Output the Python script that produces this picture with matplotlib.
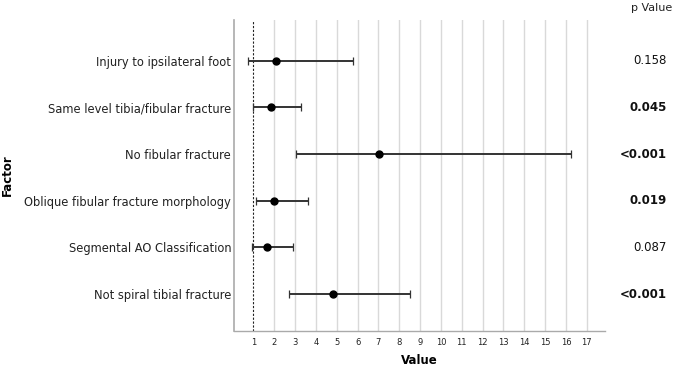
import matplotlib
matplotlib.use("Agg")
from matplotlib import pyplot as plt
from matplotlib.transforms import blended_transform_factory
import numpy as np

factors = [
    "Injury to ipsilateral foot",
    "Same level tibia/fibular fracture",
    "No fibular fracture",
    "Oblique fibular fracture morphology",
    "Segmental AO Classification",
    "Not spiral tibial fracture",
]
estimate = [2.09, 1.83, 7.01, 2.01, 1.66, 4.84]
lower = [0.76, 1.00, 3.03, 1.13, 0.94, 2.73]
upper = [5.76, 3.29, 16.23, 3.61, 2.92, 8.51]
p_values = ["0.158", "0.045", "<0.001", "0.019", "0.087", "<0.001"]
p_bold = [False, True, True, True, False, True]
x_ticks = list(range(1, 18))

plt.rcParams["font.family"] = "DejaVu Sans"

fig = plt.figure(figsize=(6.76, 3.68), dpi=100)
ax = fig.add_axes([234 / 676, 37 / 368, 371 / 676, 311 / 368])

ypos = np.arange(len(factors), 0, -1)
est = np.array(estimate)
lo = est - np.array(lower)
hi = np.array(upper) - est

ax.set_xlim(0.07, 17.87)
ax.set_ylim(0.21, 6.87)

for t in x_ticks[1:]:
    ax.axvline(t, color="#d9d9d9", lw=1, zorder=0)
ax.axvline(1, color="#222222", lw=0.8, ls=(0, (2, 1.5)), zorder=1)

ax.errorbar(est, ypos, xerr=[lo, hi], fmt="o", color="black", ecolor="#333333",
            elinewidth=1.4, capsize=3, capthick=0.9, markersize=5, zorder=3)

ax.set_yticks(ypos)
ax.set_yticklabels(factors, fontsize=8.3, color="#222222")
ax.set_xticks(x_ticks)
ax.set_xticklabels([str(t) for t in x_ticks], fontsize=6, color="#222222")
ax.tick_params(axis="both", length=0, pad=2)
ax.tick_params(axis="x", pad=5)

for s in ["top", "right"]:
    ax.spines[s].set_visible(False)
ax.spines["left"].set_color("#aaaaaa")
ax.spines["bottom"].set_color("#aaaaaa")
ax.spines["left"].set_linewidth(1.2)
ax.spines["bottom"].set_linewidth(1.0)

ax.set_xlabel("Value", fontsize=8.5, fontweight="bold", va="center")
ax.xaxis.set_label_coords(0.5, -30 / 311)
ax.set_ylabel("Factor", fontsize=8.5, fontweight="bold")
ax.yaxis.set_label_coords(-220 / 371, 0.5)

ptrans = blended_transform_factory(fig.transFigure, ax.transData)
for y, p, b in zip(ypos, p_values, p_bold):
    ax.text(667 / 676, y, p, fontsize=8.5, fontweight="bold" if b else "normal",
            ha="right", va="center", color="#111111", transform=ptrans)
fig.text(672 / 676, 1 - 8 / 368, "p Value", fontsize=8, ha="right", va="center", color="#222222")

fig.savefig("out.png", dpi=100)
